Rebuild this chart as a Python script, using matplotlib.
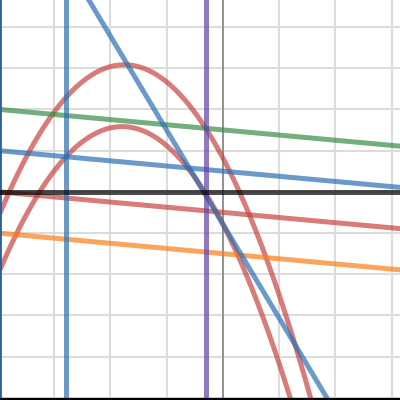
import numpy as np
import matplotlib
matplotlib.use("Agg")
import matplotlib.pyplot as plt

# view window (graph units)
x_min, x_max = -3.96, 3.15
y_min, y_max = -5.05, 4.65

# two downward parabolas: y = -a (x - h)^2 + k
parab_a = [0.737, 0.737]
parab_h = [-1.75, -1.79]
parab_k = [3.08, 1.58]

# four parallel slanted lines: y = m x + b
slant_m = -0.125
slant_b = [1.5, 0.5, -0.5, -1.5]
slant_colors = ["#388c46", "#2d70b3", "#c74440", "#fa7e19"]

# steep line
steep_m = -2.28
steep_b = -0.78

# vertical lines
vert_x = [-2.79, -0.30]
vert_colors = ["#2d70b3", "#6042a6"]

# horizontal line
horiz_y = 0

fig = plt.figure(figsize=(4, 4), dpi=100)
ax = fig.add_axes([0, 0, 1, 1])
ax.set_xlim(x_min, x_max)
ax.set_ylim(y_min, y_max)

for gx in range(-3, 4):
    ax.axvline(gx, color="#dcdcdc", lw=1.5, zorder=0)
for gy in range(-5, 5):
    ax.axhline(gy, color="#dcdcdc", lw=1.5, zorder=0)
ax.axvline(0, color="#8c8c8c", lw=1.3, zorder=1)

xs = np.linspace(x_min, x_max, 600)
lw = 3.6
for a, h, k in zip(parab_a, parab_h, parab_k):
    ax.plot(xs, -a * (xs - h) ** 2 + k, color="#c74440", alpha=0.7, lw=lw, zorder=2)

for b, c in zip(slant_b, slant_colors):
    ax.plot(xs, slant_m * xs + b, color=c, alpha=0.7, lw=lw, zorder=2)

ax.plot(xs, steep_m * xs + steep_b, color="#2d70b3", alpha=0.7, lw=lw, zorder=2)

for vx, c in zip(vert_x, vert_colors):
    ax.axvline(vx, color=c, alpha=0.7, lw=lw, zorder=2)

ax.axhline(horiz_y, color="#000000", alpha=0.7, lw=lw, zorder=3)

ax.set_xticks([])
ax.set_yticks([])
for s in ["top", "right"]:
    ax.spines[s].set_visible(False)
ax.spines["left"].set_color("#2d5f9a")
ax.spines["left"].set_linewidth(2)
ax.spines["bottom"].set_color("#000000")
ax.spines["bottom"].set_linewidth(3)

fig.savefig("out.png", dpi=100)
